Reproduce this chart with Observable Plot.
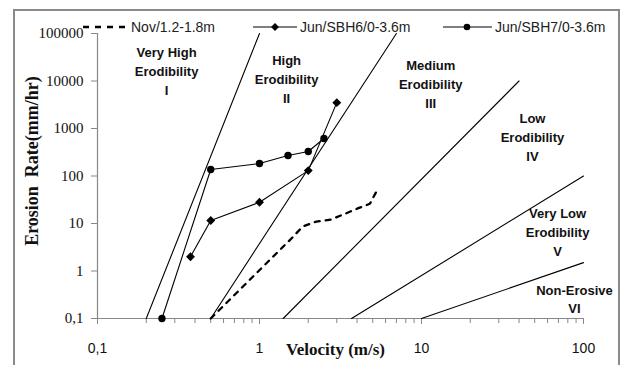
<!DOCTYPE html>
<html>
<head>
<meta charset="utf-8">
<script src="https://cdn.jsdelivr.net/npm/d3@7"></script>
<script src="https://cdn.jsdelivr.net/npm/@observablehq/plot@0.6"></script>
<style>
  html, body { margin: 0; padding: 0; background: #fff; }
  #wrap { position: relative; width: 622px; height: 365px; overflow: hidden; }
  #wrap svg.plot { position: absolute; left: 0; top: 0; }
  #frame { position: absolute; left: 13px; top: 9px; width: 607px; height: 420px;
           border: 2px solid #8a8a8a; box-sizing: border-box; pointer-events: none; }
  #legend { position: absolute; left: 0; top: 0; width: 622px; height: 40px;
            font-family: "Liberation Sans", Arial, sans-serif; font-size: 14px; color: #222; }
  #legend .lab { position: absolute; top: 18px; line-height: 18px; white-space: nowrap; }
  #legend svg { position: absolute; left: 0; top: 0; }
</style>
</head>
<body>
<div id="wrap"><div id="frame"></div><div id="legend"></div></div>
<script>
// ---- data ----
const xTicks = [0.1, 1, 10, 100];
const xTickLabels = ["0,1", "1", "10", "100"];
const xMinorTicks = [0.2, 0.3, 0.4, 0.5, 0.6, 0.7, 0.8, 0.9, 2, 3, 4, 5, 6, 7, 8, 9, 20, 30, 40, 50, 60, 70, 80, 90];
const yTicks = [0.1, 1, 10, 100, 1000, 10000, 100000];
const yTickLabels = ["0,1", "1", "10", "100", "1000", "10000", "100000"];

// Nov/1.2-1.8m (dashed)
const novV = [0.5, 1.6, 1.85, 2.25, 2.75, 3.3, 4.0, 4.8, 5.4];
const novE = [0.1, 5.1, 8.7, 11, 12.1, 15.5, 20.5, 26, 55];
// Jun/SBH6/0-3.6m (diamonds)
const sbh6V = [0.375, 0.5, 1, 2, 3];
const sbh6E = [2, 11.6, 28, 130, 3500];
// Jun/SBH7/0-3.6m (circles)
const sbh7V = [0.25, 0.5, 1, 1.5, 2, 2.5];
const sbh7E = [0.1, 137, 183, 270, 328, 616];

// erodibility class boundaries (start / end points)
const boundaryV1 = [0.2, 0.5, 1.4, 3.7, 10];
const boundaryE1 = [0.1, 0.1, 0.1, 0.1, 0.1];
const boundaryV2 = [1, 7, 40, 100, 100];
const boundaryE2 = [100000, 100000, 10000, 100, 1.5];

// class labels
const regionNames = ["Very High\nErodibility\nI", "High\nErodibility\nII", "Medium\nErodibility\nIII",
                     "Low\nErodibility\nIV", "Very Low\nErodibility\nV", "Non-Erosive\nVI"];
const regionV = [0.267, 1.47, 11.4, 48.4, 69.2, 87.9];
const regionE = [17100, 11600, 9070, 697, 6.95, 0.27];

const seriesNames = ["Nov/1.2-1.8m", "Jun/SBH6/0-3.6m", "Jun/SBH7/0-3.6m"];
const xTitle = "Velocity (m/s)";
const yTitle = "Erosion  Rate(mm/hr)";

// ---- build tables ----
const nov = novV.map((v, i) => ({v, e: novE[i]}));
const sbh6 = sbh6V.map((v, i) => ({v, e: sbh6E[i]}));
const sbh7 = sbh7V.map((v, i) => ({v, e: sbh7E[i]}));
const boundaries = [];
boundaryV1.forEach((v, i) => {
  boundaries.push({id: i, v, e: boundaryE1[i]});
  boundaries.push({id: i, v: boundaryV2[i], e: boundaryE2[i]});
});
const regions = regionNames.map((t, i) => ({t, v: regionV[i], e: regionE[i]}));

const serif = "Liberation Serif, Times New Roman, serif";
const sans = "Liberation Sans, Arial, sans-serif";
const axisColor = "#888";

const chart = Plot.plot({
  width: 622,
  height: 365,
  marginLeft: 97,
  marginRight: 39,
  marginTop: 33,
  marginBottom: 47,
  style: {fontFamily: sans, background: "transparent"},
  x: {type: "log", domain: [0.1, 100], axis: null},
  y: {type: "log", domain: [0.1, 100000], axis: null},
  marks: [
    // axes
    Plot.axisX({ticks: xMinorTicks, tickSize: 5, tickFormat: () => "", label: null, stroke: axisColor}),
    Plot.axisX({ticks: xTicks, tickSize: 6, tickFormat: () => "", label: null, stroke: axisColor}),
    Plot.axisY({ticks: yTicks, tickSize: 6, tickFormat: () => "", label: null, stroke: axisColor}),
    Plot.ruleX([0.1], {stroke: axisColor, strokeWidth: 1.2}),
    Plot.ruleY([0.1], {stroke: axisColor, strokeWidth: 1.2}),
    Plot.text(yTicks, {y: d => d, frameAnchor: "left", text: (d, i) => yTickLabels[i],
      textAnchor: "end", lineAnchor: "middle", dx: -14, fontFamily: serif, fontSize: 15, fill: "#111"}),
    Plot.text(xTicks, {x: d => d, frameAnchor: "bottom", text: (d, i) => xTickLabels[i],
      textAnchor: "middle", lineAnchor: "middle", dy: 30, fontFamily: sans, fontSize: 14, fill: "#111"}),
    Plot.text([xTitle], {frameAnchor: "bottom", text: d => d, textAnchor: "middle", lineAnchor: "middle",
      dy: 31, dx: -5, fontFamily: serif, fontSize: 17, fontWeight: "bold", fill: "#111"}),
    Plot.text([yTitle], {frameAnchor: "left", text: d => d, rotate: -90, textAnchor: "middle",
      lineAnchor: "middle", dx: -65, dy: -15, fontFamily: serif, fontSize: 18, fontWeight: "bold", fill: "#111"}),
    // boundaries
    Plot.line(boundaries, {x: "v", y: "e", z: "id", stroke: "#000", strokeWidth: 1.1}),
    // region labels
    Plot.text(regions, {x: "v", y: "e", text: "t", fontFamily: sans, fontSize: 13,
      fontWeight: "bold", lineHeight: 1.45, fill: "#111"}),
    // series
    Plot.line(nov, {x: "v", y: "e", stroke: "#000", strokeWidth: 2.3, strokeDasharray: "5,6"}),
    Plot.line(sbh6, {x: "v", y: "e", stroke: "#000", strokeWidth: 1.1}),
    Plot.dot(sbh6, {x: "v", y: "e", symbol: "diamond2", r: 4, fill: "#000", stroke: "none"}),
    Plot.line(sbh7, {x: "v", y: "e", stroke: "#000", strokeWidth: 1.1}),
    Plot.dot(sbh7, {x: "v", y: "e", symbol: "circle", r: 3.7, fill: "#000", stroke: "none"})
  ]
});
chart.classList.add("plot");
document.getElementById("wrap").insertBefore(chart, document.getElementById("frame"));

// ---- legend ----
const legend = d3.select("#legend");
const lsvg = legend.append("svg").attr("width", 622).attr("height", 40);
const ly = 27;
// item 1: dashed
lsvg.append("line").attr("x1", 83).attr("x2", 128).attr("y1", ly).attr("y2", ly)
  .attr("stroke", "#000").attr("stroke-width", 2.5).attr("stroke-dasharray", "6,6");
legend.append("div").attr("class", "lab").style("left", "131px").text(seriesNames[0]);
// item 2: diamond
lsvg.append("line").attr("x1", 253).attr("x2", 297).attr("y1", ly).attr("y2", ly)
  .attr("stroke", "#000").attr("stroke-width", 1.1);
lsvg.append("path").attr("d", d3.symbol(d3.symbolDiamond2, 40)()).attr("transform", `translate(275,${ly})`).attr("fill", "#000");
legend.append("div").attr("class", "lab").style("left", "300px").text(seriesNames[1]);
// item 3: circle
lsvg.append("line").attr("x1", 443).attr("x2", 492).attr("y1", ly).attr("y2", ly)
  .attr("stroke", "#000").attr("stroke-width", 1.1);
lsvg.append("circle").attr("cx", 467).attr("cy", ly).attr("r", 3.3).attr("fill", "#000");
legend.append("div").attr("class", "lab").style("left", "495px").text(seriesNames[2]);
</script>
</body>
</html>
